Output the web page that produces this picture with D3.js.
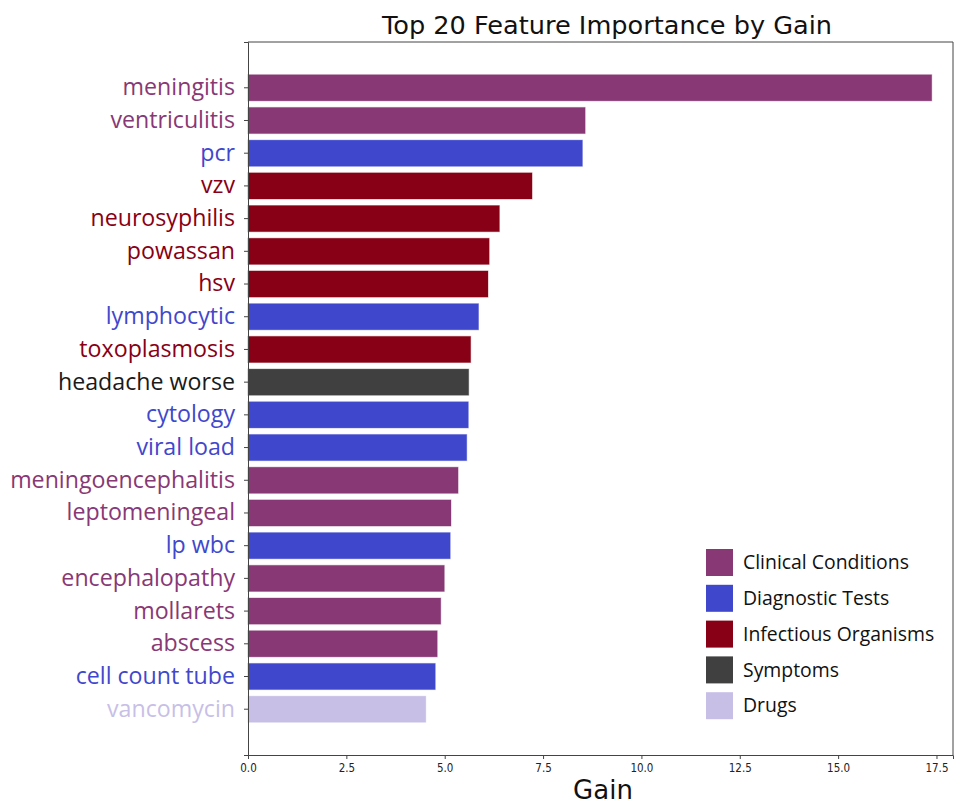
<!DOCTYPE html>
<html><head><meta charset="utf-8">
<script src="https://cdn.jsdelivr.net/npm/d3@7"></script>
<style>body{margin:0;background:#fff}</style>
</head><body>
<svg id="chart" width="955" height="803"></svg>
<script>
const features = ["meningitis","ventriculitis","pcr","vzv","neurosyphilis","powassan","hsv","lymphocytic","toxoplasmosis","headache worse","cytology","viral load","meningoencephalitis","leptomeningeal","lp wbc","encephalopathy","mollarets","abscess","cell count tube","vancomycin"];
const gains = [17.38,8.57,8.50,7.22,6.39,6.13,6.10,5.86,5.66,5.61,5.60,5.56,5.34,5.16,5.14,4.99,4.90,4.81,4.76,4.52];
const featureCategory = ["Clinical Conditions","Clinical Conditions","Diagnostic Tests","Infectious Organisms","Infectious Organisms","Infectious Organisms","Infectious Organisms","Diagnostic Tests","Infectious Organisms","Symptoms","Diagnostic Tests","Diagnostic Tests","Clinical Conditions","Clinical Conditions","Diagnostic Tests","Clinical Conditions","Clinical Conditions","Clinical Conditions","Diagnostic Tests","Drugs"];
const categories = ["Clinical Conditions","Diagnostic Tests","Infectious Organisms","Symptoms","Drugs"];
const categoryColors = ["#883875","#3f48cc","#880015","#404040","#c8bfe7"];
const xTicks = [0,2.5,5,7.5,10,12.5,15,17.5];
const title = "Top 20 Feature Importance by Gain";
const xLabel = "Gain";

const m = {left:248, right:953, top:42, bottom:755};
const svg = d3.select("#chart");
const color = d3.scaleOrdinal().domain(categories).range(categoryColors);
const x = d3.scaleLinear().domain([0,17.92]).range([m.left,m.right]);
const y = d3.scaleBand().domain(features).range([m.top,m.bottom]).paddingInner(0.2).paddingOuter(1.0);
const data = features.map((f,i)=>({f, v:gains[i], c:featureCategory[i]}));
const labelFont = "'Open Sans', sans-serif";

// bars
svg.append("g").selectAll("rect").data(data).join("rect")
  .attr("x", x(0)).attr("y", d=>y(d.f))
  .attr("width", d=>x(d.v)-x(0)).attr("height", y.bandwidth())
  .attr("fill", d=>color(d.c))
  .attr("stroke", d=>color(d.c)).attr("stroke-opacity",0.35).attr("stroke-width",1);

// frame
svg.append("path").attr("d",`M${m.left},${m.top}H${m.right}V${m.bottom}`)
  .attr("fill","none").attr("stroke","#444").attr("stroke-width",1);

// x axis
const xa = svg.append("g").attr("transform",`translate(0,${m.bottom})`)
  .call(d3.axisBottom(x).tickValues(xTicks).tickFormat(d3.format(".1f")).tickSize(4).tickPadding(5));
xa.selectAll("path,line").attr("stroke","#444");
xa.selectAll("text").attr("font-family","'DejaVu Sans Condensed','DejaVu Sans',sans-serif").attr("font-size",11.5).attr("fill","#222");

// y axis
const ya = svg.append("g").attr("transform",`translate(${m.left},0)`)
  .call(d3.axisLeft(y).tickSize(4).tickPadding(9));
ya.selectAll("path,line").attr("stroke","#444");
ya.selectAll("text").attr("font-family",labelFont).attr("font-size",23.2)
  .attr("fill",(d,i)=> data[i].c==="Symptoms" ? "#1a1a1a" : color(data[i].c));

// title
svg.append("text").attr("x",607).attr("y",34).attr("text-anchor","middle")
  .attr("font-family","'DejaVu Sans',sans-serif").attr("font-size",25.6).attr("fill","#111").text(title);
// x label
svg.append("text").attr("x",603).attr("y",799).attr("text-anchor","middle")
  .attr("font-family","'DejaVu Sans',sans-serif").attr("font-size",26).attr("fill","#111").text(xLabel);

// legend
const lg = svg.append("g").attr("transform","translate(706,549)");
const items = lg.selectAll("g").data(categories).join("g").attr("transform",(d,i)=>`translate(0,${i*35.8})`);
items.append("rect").attr("width",27).attr("height",27).attr("fill",d=>color(d));
items.append("text").attr("x",37).attr("y",13.5).attr("dy","0.35em")
  .attr("font-family",labelFont).attr("font-size",19.4).attr("fill","#111").text(d=>d);
</script>
</body></html>
